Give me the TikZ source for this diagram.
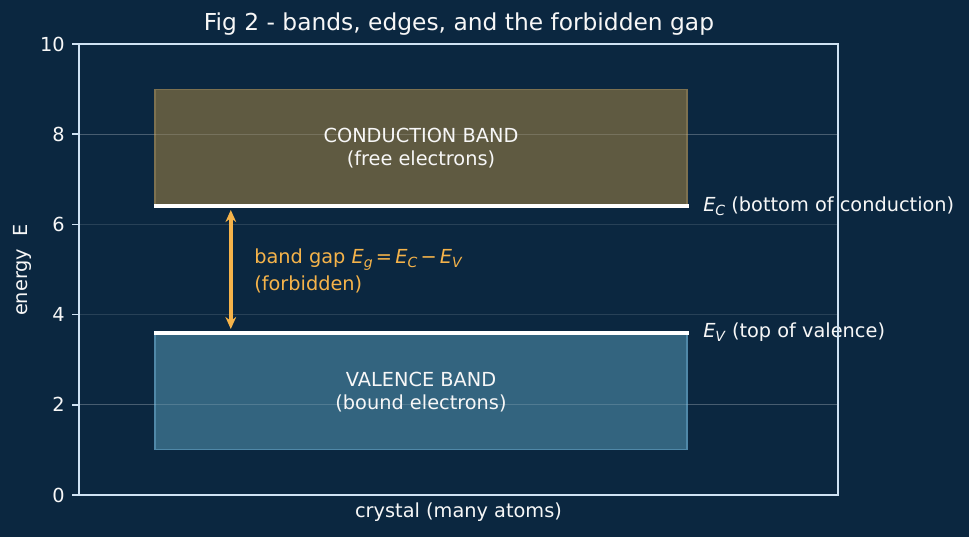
\documentclass[tikz,border=0pt]{standalone}
\usepackage{fontspec}
\setmainfont{DejaVu Sans}
\usetikzlibrary{arrows.meta}
\definecolor{bg}{HTML}{0B2740}
\definecolor{spine}{HTML}{CFE2F3}
\definecolor{condfill}{HTML}{5F5A41}
\definecolor{condedge}{HTML}{7D7150}
\definecolor{valfill}{HTML}{33647F}
\definecolor{valedge}{HTML}{5088A8}
\definecolor{gapc}{HTML}{F5B34A}
\definecolor{txt}{HTML}{F7F7F7}
\newcommand{\Esub}[2]{\textit{#1}\raisebox{-0.35ex}{\fontsize{10.5}{12}\selectfont\textit{#2}}}
\tikzset{
  lbl/.style={text=txt, font=\fontsize{14.5}{17}\selectfont, inner sep=0pt},
  ticklbl/.style={lbl, anchor=east},
  gridline/.style={draw=white, opacity=0.12, line width=0.8pt},
  edgeline/.style={draw=white, line width=3pt},
}
\begin{document}
\begin{tikzpicture}[x=0.75pt, y=-0.75pt]
\fill[bg] (0,0) rectangle (969,537);
\useasboundingbox (0,0) rectangle (969,537);
% grid
\foreach \v in {2,4,6,8} {
  \draw[gridline] (79,{495-45.1*\v}) -- (838,{495-45.1*\v});
}
% bands
\node[fill=condfill, draw=condedge, line width=0.8pt, minimum width=532*0.75pt, minimum height=117*0.75pt, inner sep=0pt] (cond) at (421,147.75) {};
\node[fill=valfill, draw=valedge, line width=0.8pt, minimum width=532*0.75pt, minimum height=117*0.75pt, inner sep=0pt] (val) at (421,391.25) {};
\foreach \v in {2,8} {
  \draw[gridline, opacity=0.15] (79,{495-45.1*\v}) -- (838,{495-45.1*\v});
}
% band edges
\coordinate (ecl) at (154,206.4);
\coordinate (ecr) at (689,206.4);
\coordinate (evl) at (154,332.6);
\coordinate (evr) at (689,332.6);
\draw[edgeline] (ecl) -- (ecr);
\draw[edgeline] (evl) -- (evr);
% labels in bands
\node[lbl, align=center] (condtxt) at (421,148) {CONDUCTION BAND\\[0pt](free electrons)};
\node[lbl, align=center] (valtxt) at (421,392) {VALENCE BAND\\[0pt](bound electrons)};
\node[lbl, anchor=west] (eclbl) at (703,206) {\Esub{E}{C} (bottom of conduction)};
\node[lbl, anchor=west] (evlbl) at (703,332) {\Esub{E}{V} (top of valence)};
% gap arrow
\coordinate (gtop) at (230.8,210);
\coordinate (gbot) at (230.8,329);
\draw[gapc, line width=2.8pt, {Stealth[length=9pt,width=8pt]}-{Stealth[length=9pt,width=8pt]}] (gtop) -- (gbot);
\node[lbl, text=gapc, anchor=west, align=left] (gaptxt) at (254,271) {band gap \Esub{E}{g}\,=\,\Esub{E}{C}\,−\,\Esub{E}{V}\\[3pt](forbidden)};
% axes
\draw[spine, line width=1.2pt] (79,44) rectangle (838,495);
\foreach \v in {0,2,4,6,8,10} {
  \draw[spine, line width=1.2pt] (79,{495-45.1*\v}) -- (72,{495-45.1*\v});
  \node[ticklbl] (t\v) at (65,{495-45.1*\v}) {\v};
}
\node[lbl] (xlab) at (458.5,512) {crystal (many atoms)};
\node[lbl, rotate=90] (ylab) at (22,270) {energy \ E};
\node[lbl, font=\fontsize{17.5}{20}\selectfont] (title) at (459,24) {Fig 2 - bands, edges, and the forbidden gap};
\end{tikzpicture}
\end{document}
